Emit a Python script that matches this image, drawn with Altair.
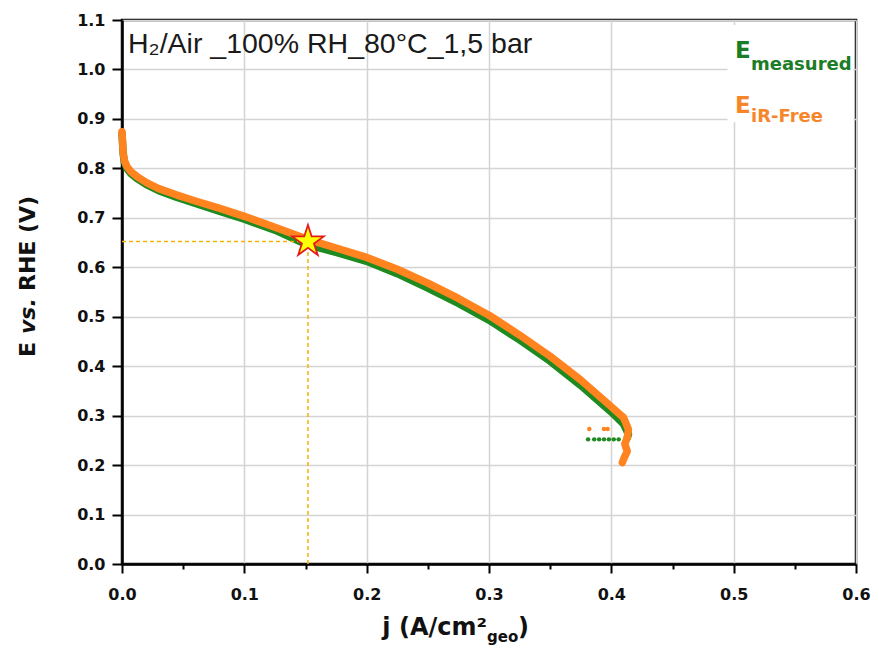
import altair as alt
import pandas as pd

# ---- data ----
j_meas = [0.000, 0.0005, 0.001, 0.002, 0.004, 0.007, 0.012, 0.020, 0.030, 0.045, 0.060, 0.080,
          0.100, 0.125, 0.150, 0.175, 0.200, 0.225, 0.250, 0.275, 0.300, 0.325, 0.350, 0.375,
          0.400, 0.410, 0.414, 0.413]
e_meas = [0.870, 0.848, 0.828, 0.812, 0.800, 0.790, 0.780, 0.767, 0.755, 0.741, 0.729, 0.713,
          0.697, 0.675, 0.647, 0.630, 0.612, 0.587, 0.558, 0.527, 0.493, 0.453, 0.410, 0.361,
          0.307, 0.283, 0.262, 0.255]

j_irf = [0.000, 0.0005, 0.001, 0.002, 0.004, 0.007, 0.012, 0.020, 0.030, 0.045, 0.060, 0.080,
         0.100, 0.125, 0.150, 0.175, 0.200, 0.225, 0.250, 0.275, 0.300, 0.325, 0.350, 0.375,
         0.400, 0.410, 0.414, 0.413, 0.411, 0.413, 0.410, 0.409]
e_irf = [0.874, 0.852, 0.832, 0.816, 0.804, 0.794, 0.784, 0.771, 0.759, 0.746, 0.734, 0.719,
         0.703, 0.681, 0.658, 0.639, 0.620, 0.596, 0.568, 0.537, 0.503, 0.463, 0.420, 0.372,
         0.318, 0.296, 0.272, 0.255, 0.243, 0.228, 0.212, 0.205]

# stray points at the end of the scans
j_meas_dots = [0.381, 0.386, 0.390, 0.394, 0.398, 0.402, 0.406]
e_meas_dots = [0.252, 0.252, 0.252, 0.252, 0.252, 0.252, 0.252]
j_irf_dots = [0.382, 0.394, 0.397]
e_irf_dots = [0.273, 0.273, 0.273]

# operating point marked with the star
j_star = [0.152]
e_star = [0.652]

series = ["E measured", "E iR-Free"]
colors = ["#1f8a1f", "#ff8420"]

x_ticks = [round(i * 0.05, 2) for i in range(13)]
y_ticks = [round(i * 0.05, 2) for i in range(23)]

legend_box = {"j0": [0.495], "j1": [0.598], "e0": [0.893], "e1": [1.09]}

annotation = "H\u2082/Air _100% RH_80°C_1,5 bar"

# ---- tables ----
df_curves = pd.concat([
    pd.DataFrame({"j": j_meas, "E": e_meas, "series": series[0], "idx": range(len(j_meas))}),
    pd.DataFrame({"j": j_irf, "E": e_irf, "series": series[1], "idx": range(len(j_irf))}),
])
df_dots = pd.concat([
    pd.DataFrame({"j": j_meas_dots, "E": e_meas_dots, "series": series[0]}),
    pd.DataFrame({"j": j_irf_dots, "E": e_irf_dots, "series": series[1]}),
])
df_star = pd.DataFrame({"j": j_star, "E": e_star, "zero": [0.0]})

MAJ = "abs(datum.value * 10 - round(datum.value * 10)) < 0.001"

xs = alt.Scale(domain=[0, 0.6], nice=False, zero=False)
ys = alt.Scale(domain=[0, 1.1], nice=False, zero=False)
cs = alt.Scale(domain=series, range=colors)

x_axis = alt.Axis(values=x_ticks, title=None,
                  labelExpr=f"{MAJ} ? format(datum.value, '.1f') : ''",
                  tickSize={"condition": {"test": MAJ, "value": 9}, "value": 5},
                  gridOpacity={"condition": {"test": MAJ, "value": 1}, "value": 0},
                  labelPadding=13, labelFlush=False, labelOverlap=False)
y_axis = alt.Axis(values=y_ticks, title=None,
                  labelExpr=f"{MAJ} ? format(datum.value, '.1f') : ''",
                  tickSize={"condition": {"test": MAJ, "value": 10}, "value": 5},
                  gridOpacity={"condition": {"test": MAJ, "value": 1}, "value": 0},
                  labelPadding=7, labelFlush=False, labelOverlap=False)

box = alt.Chart(pd.DataFrame(legend_box)).mark_rect(fill="white").encode(
    x=alt.X("j0:Q", scale=xs, axis=x_axis), x2="j1:Q",
    y=alt.Y("e0:Q", scale=ys, axis=y_axis), y2="e1:Q")

lines = alt.Chart(df_curves).mark_line(strokeWidth=7.5, strokeCap="round", strokeJoin="round").encode(
    x=alt.X("j:Q", scale=xs), y=alt.Y("E:Q", scale=ys),
    color=alt.Color("series:N", scale=cs, legend=None),
    detail="series:N",
    order="idx:Q")

dots = alt.Chart(df_dots).mark_circle(size=20, opacity=1).encode(
    x=alt.X("j:Q", scale=xs), y=alt.Y("E:Q", scale=ys),
    color=alt.Color("series:N", scale=cs, legend=None))

guide_h = alt.Chart(df_star).mark_rule(color="#f5b400", strokeWidth=1.5, strokeDash=[4, 3]).encode(
    x=alt.X("zero:Q", scale=xs), x2="j:Q", y=alt.Y("E:Q", scale=ys))
guide_v = alt.Chart(df_star).mark_rule(color="#f5b400", strokeWidth=1.5, strokeDash=[4, 3]).encode(
    x=alt.X("j:Q", scale=xs), y=alt.Y("zero:Q", scale=ys), y2="E:Q")

STAR = ("M0,-1L0.2245,-0.309L0.951,-0.309L0.363,0.118L0.588,0.809L0,0.382"
        "L-0.588,0.809L-0.363,0.118L-0.951,-0.309L-0.2245,-0.309Z")
star = alt.Chart(df_star).mark_point(shape=STAR, size=1100, filled=True, fill="#ffff00",
                                     stroke="#e41a1c", strokeWidth=1.8, opacity=1).encode(
    x=alt.X("j:Q", scale=xs), y=alt.Y("E:Q", scale=ys))


def label(txt, x, y, size, color="#111111", weight="bold", style="normal",
          font="DejaVu Sans", angle=0, baseline="alphabetic", align="left"):
    return alt.Chart(pd.DataFrame({"t": [txt]})).mark_text(
        font=font, fontSize=size, fontWeight=weight, fontStyle=style, color=color,
        angle=angle, baseline=baseline, align=align).encode(
        text="t:N", x=alt.value(x), y=alt.value(y))


texts = [
    label(annotation, 6, 33, 28.5, color="#1a1a1a", weight="normal", font="Liberation Sans"),
    # legend
    label("E", 613, 38, 23, color="#1b7d25"),
    label("measured", 629, 50, 18, color="#1b7d25"),
    label("E", 613, 93, 23, color="#f7862a"),
    label("iR-Free", 629, 102, 18, color="#f7862a"),
    # x title
    label("j (A/cm²", 365, 615, 24, align="right"),
    label("geo", 365, 622, 15),
    label(")", 396, 615, 24),
    # y title (rotated)
    label("E", -94, 337, 22, angle=270, baseline="middle"),
    label("vs.", -94, 314, 22, angle=270, baseline="middle", style="italic"),
    label("RHE (V)", -94, 271, 22, angle=270, baseline="middle"),
]

chart = alt.layer(box, lines, dots, guide_h, guide_v, star, *texts).properties(
    width=734, height=544,
    autosize=alt.AutoSizeParams(type="none"),
    padding={"left": 114, "top": 12, "right": 15, "bottom": 83},
    background="white",
).configure_view(stroke="black", strokeWidth=2.5).configure_axis(
    domainColor="black", domainWidth=2.5, tickColor="black", tickWidth=2,
    gridColor="#d4d4d4", gridWidth=1.5,
    labelFont="DejaVu Sans", labelFontWeight="bold", labelFontSize=16, labelColor="#111111",
)

chart.save("out.html", embed_options={"renderer": "svg", "actions": False})
